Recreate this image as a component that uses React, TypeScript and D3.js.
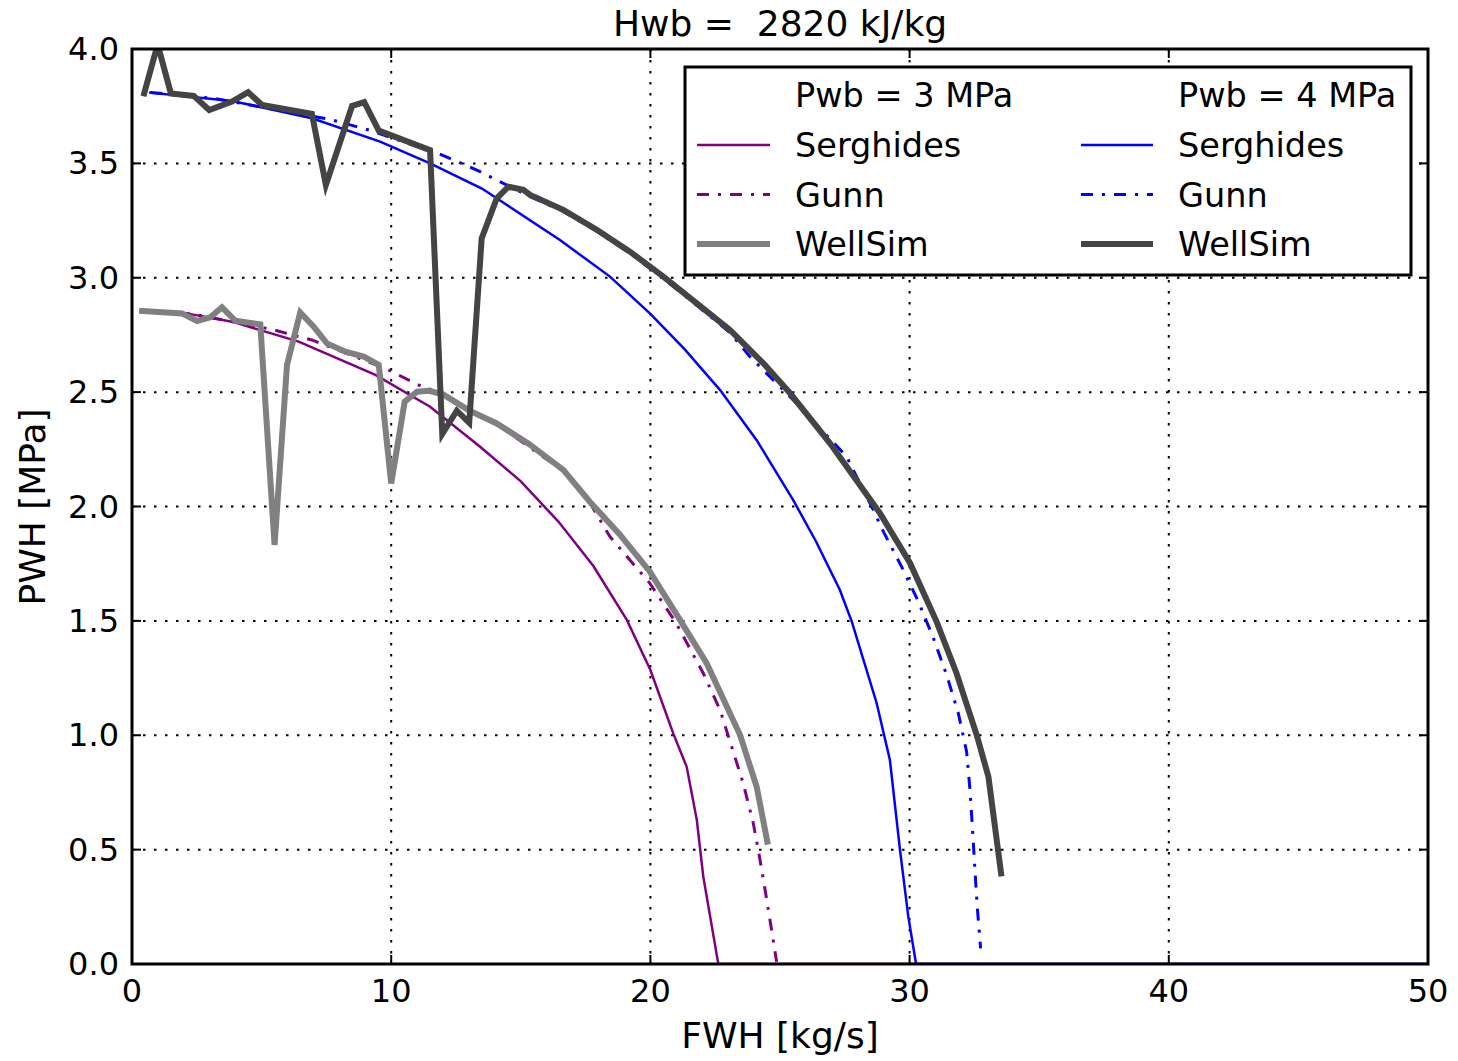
import React from "react";
import * as d3 from "d3";

const titleText = "Hwb =  2820 kJ/kg";
const xLabel = "FWH [kg/s]";
const yLabel = "PWH [MPa]";
const xTicks = [0, 10, 20, 30, 40, 50];
const yTicks = [0, 0.5, 1, 1.5, 2, 2.5, 3, 3.5, 4];

// Pwb = 3 MPa
const serghides3: [number, number][] = [
  [0.5, 2.855], [2.2, 2.842], [3.86, 2.808], [6.43, 2.721], [9.39, 2.575], [11.5, 2.436],
  [13.43, 2.261], [15.0, 2.11], [16.45, 1.934], [17.8, 1.74], [19.09, 1.504], [20.0, 1.285],
  [20.88, 1.008], [21.4, 0.862], [21.79, 0.63], [22.04, 0.382], [22.62, 0.0], [50, 0.0],
];
const gunn3: [number, number][] = [
  [0.5, 2.856], [2.31, 2.842], [5.4, 2.774], [6.94, 2.728], [9.77, 2.604], [11.06, 2.531],
  [11.5, 2.513], [14.07, 2.36], [16.64, 2.155], [17.67, 2.015], [18.44, 1.868],
  [19.98, 1.664], [21.0, 1.489], [22.04, 1.271], [22.69, 1.11], [23.58, 0.79],
  [23.97, 0.615], [24.23, 0.455], [24.49, 0.28], [24.87, 0.01],
];
const wellsim3: [number, number][] = [
  [0.39, 2.855], [1.93, 2.844], [2.51, 2.811], [3.02, 2.827], [3.47, 2.871], [3.99, 2.812],
  [4.95, 2.796], [5.5, 1.832], [5.98, 2.619], [6.49, 2.848], [7.01, 2.786], [7.52, 2.713],
  [8.23, 2.677], [8.94, 2.655], [9.52, 2.619], [10.0, 2.101], [10.52, 2.458], [11.0, 2.502],
  [11.45, 2.506], [12.0, 2.49], [13.0, 2.42], [14.07, 2.363], [15.3, 2.275], [16.64, 2.16],
  [17.67, 2.02], [18.8, 1.88], [19.98, 1.715], [21.14, 1.504], [22.17, 1.315],
  [23.46, 1.001], [24.1, 0.775], [24.51, 0.535],
];

// Pwb = 4 MPa
const serghides4: [number, number][] = [
  [0.71, 3.809], [3.86, 3.773], [6.94, 3.697], [9.57, 3.595], [11.5, 3.5], [13.5, 3.39],
  [16.51, 3.165], [18.44, 3.005], [19.98, 2.844], [21.3, 2.69], [22.69, 2.509], [24.1, 2.29],
  [25.51, 2.028], [26.4, 1.845], [27.31, 1.635], [27.77, 1.497], [28.73, 1.14], [29.24, 0.892],
  [29.63, 0.498], [29.95, 0.207], [30.25, 0.0], [50, 0.0],
];
const gunn4: [number, number][] = [
  [0.71, 3.81], [3.15, 3.784], [7.65, 3.692], [9.13, 3.646], [11.95, 3.537], [12.65, 3.503],
  [13.43, 3.464], [14.07, 3.427], [15.36, 3.355], [16.64, 3.29], [17.93, 3.203],
  [19.21, 3.107], [20.5, 2.997], [21.79, 2.879], [23.07, 2.76], [23.84, 2.655],
  [25.64, 2.451], [27.57, 2.218], [28.6, 1.985], [28.99, 1.89], [29.69, 1.737],
  [30.34, 1.584], [30.92, 1.424], [31.43, 1.263], [31.88, 1.096], [32.2, 0.928],
  [32.33, 0.761], [32.43, 0.586], [32.52, 0.411], [32.61, 0.25], [32.74, 0.068],
];
const wellsim4: [number, number][] = [
  [0.47, 3.806], [0.99, 4.02], [1.5, 3.806], [2.38, 3.795], [2.98, 3.733], [3.86, 3.77],
  [4.48, 3.811], [5.02, 3.755], [6.94, 3.716], [7.48, 3.406], [8.49, 3.751], [8.96, 3.768],
  [9.52, 3.643], [11.5, 3.558], [11.97, 2.317], [12.53, 2.419], [13.01, 2.366],
  [13.49, 3.172], [14.07, 3.347], [14.52, 3.398], [15.1, 3.384], [15.36, 3.362],
  [16.64, 3.297], [17.93, 3.21], [19.21, 3.114], [20.5, 3.005], [21.79, 2.888],
  [23.07, 2.772], [24.36, 2.626], [25.39, 2.495], [26.93, 2.276], [28.86, 1.97],
  [30.02, 1.752], [31.04, 1.497], [31.81, 1.271], [32.59, 1.001], [33.04, 0.819],
  [33.53, 0.396],
];

const FONT = "'DejaVu Sans', sans-serif";

function Txt({ x, y, text, size, anchor = "start", rotate = 0 }: any) {
  return (
    <text
      transform={`translate(${x},${y}) rotate(${rotate})`}
      textAnchor={anchor}
      fontFamily={FONT}
      fontSize={size}
      fill="#000"
      style={{ whiteSpace: "pre" }}
    >
      {text}
    </text>
  );
}

export default function App() {
  const W = 1458, H = 1061;
  const left = 132, right = 1428, top = 49, bottom = 964;
  const x = d3.scaleLinear().domain([0, 50]).range([left, right]);
  const y = d3.scaleLinear().domain([0, 4]).range([bottom, top]);
  const line = d3.line<[number, number]>().x((d) => x(d[0])).y((d) => y(d[1]));

  const series = [
    { data: serghides3, color: "#800080", width: 2.5, dash: null },
    { data: gunn3, color: "#800080", width: 3, dash: "12,9,3,9" },
    { data: serghides4, color: "#0000ff", width: 2.5, dash: null },
    { data: gunn4, color: "#0000ff", width: 3, dash: "12,9,3,9" },
    { data: wellsim3, color: "#808080", width: 6, dash: null },
    { data: wellsim4, color: "#444444", width: 6, dash: null },
  ];

  const legendRows = [
    { label: "Serghides", c3: "#800080", c4: "#0000ff", w: 2.5, dash: null },
    { label: "Gunn", c3: "#800080", c4: "#0000ff", w: 3, dash: "12,9,3,9" },
    { label: "WellSim", c3: "#808080", c4: "#444444", w: 6, dash: null },
  ];

  const tickFs = 32;
  const labFs = 36;
  const legFs = 33.5;
  return (
    <svg width={W} height={H} style={{ position: "absolute", left: 0, top: 0, background: "#fff" }}>
      <rect x={0} y={0} width={W} height={H} fill="#fff" />
      <defs>
        <clipPath id="plotclip">
          <rect x={left} y={top} width={right - left} height={bottom - top} />
        </clipPath>
      </defs>
      {/* grid */}
      {xTicks.slice(1, -1).map((t) => (
        <line key={"gx" + t} x1={x(t)} x2={x(t)} y1={top} y2={bottom} stroke="#000" strokeWidth={2} strokeDasharray="2.5,8.5" />
      ))}
      {yTicks.slice(1, -1).map((t) => (
        <line key={"gy" + t} x1={left} x2={right} y1={y(t)} y2={y(t)} stroke="#000" strokeWidth={2} strokeDasharray="2.5,8.5" />
      ))}
      <g clipPath="url(#plotclip)">
        {series.map((s, i) => (
          <path key={i} d={line(s.data) || ""} fill="none" stroke={s.color} strokeWidth={s.width}
            strokeDasharray={s.dash || undefined} strokeLinejoin="miter" strokeLinecap={s.dash ? "butt" : "square"} />
        ))}
      </g>
      {/* ticks */}
      {xTicks.map((t) => (
        <g key={"tx" + t}>
          <line x1={x(t)} x2={x(t)} y1={bottom} y2={bottom - 9} stroke="#000" strokeWidth={2} />
          <line x1={x(t)} x2={x(t)} y1={top} y2={top + 9} stroke="#000" strokeWidth={2} />
          <Txt x={x(t)} y={1002} text={String(t)} size={tickFs} anchor="middle" />
        </g>
      ))}
      {yTicks.map((t) => (
        <g key={"ty" + t}>
          <line x1={left} x2={left + 9} y1={y(t)} y2={y(t)} stroke="#000" strokeWidth={2} />
          <line x1={right} x2={right - 9} y1={y(t)} y2={y(t)} stroke="#000" strokeWidth={2} />
          <Txt x={119} y={y(t) + 11} text={t.toFixed(1)} size={tickFs} anchor="end" />
        </g>
      ))}
      <rect x={left} y={top} width={right - left} height={bottom - top} fill="none" stroke="#000" strokeWidth={3} />
      {/* title and labels */}
      <Txt x={780} y={36} text={titleText} size={labFs} anchor="middle" />
      <Txt x={780} y={1048} text={xLabel} size={labFs} anchor="middle" />
      <Txt x={45} y={507} text={yLabel} size={labFs} anchor="middle" rotate={-90} />
      {/* legend */}
      <rect x={685} y={67} width={726} height={208} fill="#fff" stroke="#000" strokeWidth={3} />
      <Txt x={795} y={107} text="Pwb = 3 MPa" size={legFs} />
      <Txt x={1178} y={107} text="Pwb = 4 MPa" size={legFs} />
      {legendRows.map((r, i) => {
        const cy = 145 + i * 49.5;
        return (
          <g key={"lg" + i}>
            <line x1={697} x2={770} y1={cy} y2={cy} stroke={r.c3} strokeWidth={r.w} strokeDasharray={r.dash || undefined} />
            <Txt x={795} y={cy + 12} text={r.label} size={legFs} />
            <line x1={1081} x2={1153} y1={cy} y2={cy} stroke={r.c4} strokeWidth={r.w} strokeDasharray={r.dash || undefined} />
            <Txt x={1178} y={cy + 12} text={r.label} size={legFs} />
          </g>
        );
      })}
    </svg>
  );
}
